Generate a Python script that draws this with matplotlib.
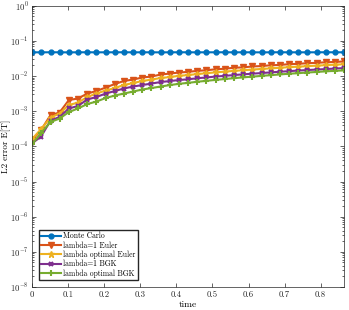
import numpy as np
import matplotlib
matplotlib.use("Agg")
import matplotlib.pyplot as plt
from matplotlib.ticker import FixedLocator, NullFormatter

plt.rcParams['font.family'] = 'serif'
plt.rcParams['font.serif'] = ['cmr10', 'DejaVu Serif']
plt.rcParams['mathtext.fontset'] = 'cm'
plt.rcParams['axes.formatter.use_mathtext'] = True

# time grid (35 steps)
time = [0.000, 0.025, 0.051, 0.076, 0.102, 0.127, 0.153, 0.178, 0.204, 0.229,
        0.254, 0.280, 0.305, 0.331, 0.356, 0.382, 0.407, 0.433, 0.458, 0.483,
        0.509, 0.534, 0.560, 0.585, 0.611, 0.636, 0.662, 0.687, 0.712, 0.738,
        0.763, 0.789, 0.814, 0.840, 0.865]

monte_carlo = [0.0470, 0.0469, 0.0471, 0.0470, 0.0468, 0.0470, 0.0471, 0.0469, 0.0470, 0.0470,
               0.0471, 0.0469, 0.0470, 0.0470, 0.0468, 0.0470, 0.0471, 0.0470, 0.0469, 0.0470,
               0.0470, 0.0471, 0.0469, 0.0470, 0.0470, 0.0468, 0.0470, 0.0471, 0.0470, 0.0469,
               0.0470, 0.0470, 0.0471, 0.0470, 0.0470]

euler_l1 = [1.51e-4, 2.90e-4, 7.75e-4, 9.12e-4, 2.07e-3, 2.28e-3, 3.16e-3, 3.72e-3, 4.68e-3, 5.89e-3,
            7.16e-3, 7.91e-3, 9.01e-3, 9.62e-3, 1.096e-2, 1.170e-2, 1.250e-2, 1.307e-2, 1.396e-2, 1.452e-2,
            1.549e-2, 1.602e-2, 1.710e-2, 1.754e-2, 1.862e-2, 1.911e-2, 2.014e-2, 2.053e-2, 2.164e-2, 2.207e-2,
            2.310e-2, 2.355e-2, 2.449e-2, 2.500e-2, 2.583e-2]

euler_opt = [1.61e-4, 3.10e-4, 6.58e-4, 8.55e-4, 1.49e-3, 1.75e-3, 2.52e-3, 3.16e-3, 3.85e-3, 4.53e-3,
             5.51e-3, 6.28e-3, 7.16e-3, 7.91e-3, 8.71e-3, 9.31e-3, 1.007e-2, 1.061e-2, 1.132e-2, 1.194e-2,
             1.266e-2, 1.326e-2, 1.396e-2, 1.452e-2, 1.520e-2, 1.581e-2, 1.644e-2, 1.710e-2, 1.778e-2, 1.837e-2,
             1.898e-2, 1.963e-2, 2.027e-2, 2.094e-2, 2.150e-2]

bgk_l1 = [1.22e-4, 1.90e-4, 5.41e-4, 6.80e-4, 1.19e-3, 1.40e-3, 2.14e-3, 2.52e-3, 3.16e-3, 3.72e-3,
          4.39e-3, 5.00e-3, 5.51e-3, 6.08e-3, 6.71e-3, 7.16e-3, 7.65e-3, 8.06e-3, 8.61e-3, 9.06e-3,
          9.62e-3, 1.007e-2, 1.061e-2, 1.110e-2, 1.162e-2, 1.208e-2, 1.266e-2, 1.316e-2, 1.368e-2, 1.423e-2,
          1.472e-2, 1.520e-2, 1.570e-2, 1.622e-2, 1.676e-2]

bgk_opt = [1.16e-4, 2.39e-4, 4.90e-4, 6.16e-4, 9.42e-4, 1.19e-3, 1.59e-3, 1.87e-3, 2.36e-3, 2.77e-3,
           3.16e-3, 3.60e-3, 4.11e-3, 4.53e-3, 5.00e-3, 5.51e-3, 5.97e-3, 6.37e-3, 6.84e-3, 7.26e-3,
           7.74e-3, 8.17e-3, 8.65e-3, 9.12e-3, 9.55e-3, 1.007e-2, 1.054e-2, 1.104e-2, 1.155e-2, 1.202e-2,
           1.250e-2, 1.300e-2, 1.352e-2, 1.396e-2, 1.442e-2]

x_ticks = [0, 0.1, 0.2, 0.3, 0.4, 0.5, 0.6, 0.7, 0.8]
x_tick_labels = ['0', '0.1', '0.2', '0.3', '0.4', '0.5', '0.6', '0.7', '0.8']
y_decades = [-8, -7, -6, -5, -4, -3, -2, -1, 0]

fig = plt.figure(figsize=(3.49, 3.10), dpi=100)
ax = fig.add_axes([0.092, 0.074, 0.894, 0.908])

ax.semilogy(time, monte_carlo, color='#0072BD', marker='o', ms=3.5, lw=1.5, label='Monte Carlo')
ax.semilogy(time, euler_l1, color='#D95319', marker='v', ms=4.8, lw=1.5, label='lambda=1 Euler')
ax.semilogy(time, euler_opt, color='#EDB120', marker='*', ms=4.8, lw=1.5, label='lambda optimal Euler')
ax.semilogy(time, bgk_l1, color='#7E2F8E', marker='x', ms=3, mew=1.5, lw=1.5, label='lambda=1 BGK')
ax.semilogy(time, bgk_opt, color='#77AC30', marker='+', ms=3.8, mew=1.5, lw=1.5, label='lambda optimal BGK')

ax.set_xlim(0, 0.865)
ax.set_ylim(1e-8, 1e0)
ax.set_xticks(x_ticks)
ax.set_xticklabels(x_tick_labels)
ax.set_yticks([10.0 ** d for d in y_decades])
ax.set_yticklabels([r'$10^{%d}$' % d for d in y_decades])
minor = [m * 10.0 ** d for d in y_decades[:-1] for m in range(2, 10)]
ax.yaxis.set_minor_locator(FixedLocator(minor))
ax.yaxis.set_minor_formatter(NullFormatter())

ax.tick_params(which='both', direction='in', top=True, right=True, labelsize=6.3,
               colors='#262626', width=0.5, pad=2.5)
ax.tick_params(which='major', length=3)
ax.tick_params(which='minor', length=1.5)
for s in ax.spines.values():
    s.set_color('#262626')
    s.set_linewidth(0.5)

ax.set_xlabel('time', fontsize=6.8, labelpad=1.5)
ax.set_ylabel('L2 error E[T]', fontsize=6.5)
ax.yaxis.set_label_coords(-0.068, 0.5)

ax.legend(loc='lower left', fontsize=5.5, frameon=True, fancybox=False, edgecolor='#262626',
          framealpha=1, borderpad=0.3, labelspacing=0.12, handlelength=2.6, handletextpad=0.3,
          borderaxespad=0, bbox_to_anchor=(0.022, 0.025))

fig.savefig('out.png', dpi=100)
